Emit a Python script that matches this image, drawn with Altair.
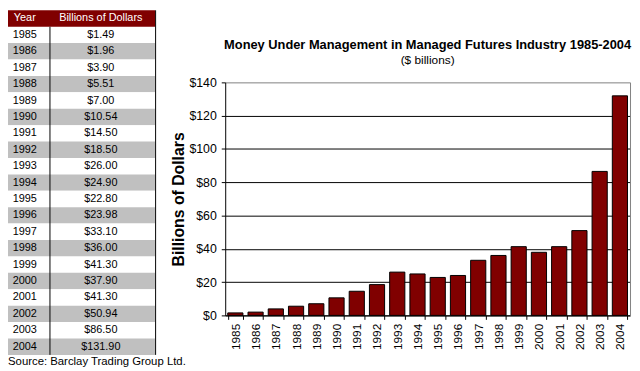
import altair as alt
import pandas as pd

# ---- data ----
years = ["1985", "1986", "1987", "1988", "1989", "1990", "1991", "1992", "1993", "1994",
         "1995", "1996", "1997", "1998", "1999", "2000", "2001", "2002", "2003", "2004"]
values = [1.49, 1.96, 3.90, 5.51, 7.00, 10.54, 14.50, 18.50, 26.00, 24.90,
          22.80, 23.98, 33.10, 36.00, 41.30, 37.90, 41.30, 50.94, 86.50, 131.90]
table_header = ["Year", "Billions of Dollars"]
y_ticks = [0, 20, 40, 60, 80, 100, 120, 140]
title_text = "Money Under Management in Managed Futures Industry 1985-2004"
subtitle_text = "($ billions)"
source_text = ["Source: Barclay Trading Group Ltd."]

FONT = "Liberation Sans"
RED = "#800000"

df = pd.DataFrame({"year": years, "value": values})
df["row"] = range(1, len(df) + 1)
df["shade"] = ["odd" if r % 2 else "even" for r in df["row"]]
hdr = pd.DataFrame({"row": [0], "year": [table_header[0]], "label": [table_header[1]]})
src = pd.DataFrame({"text": source_text})

# ---- table ----
row_scale = alt.Scale(domain=[0, 21], range=[0, 349], nice=False, zero=False)
ROW = lambda f: alt.Y(f, type="quantitative", scale=row_scale, axis=None)

rows_rect = alt.Chart(df).transform_calculate(row2="datum.row + 1").mark_rect().encode(
    x=alt.value(0), x2=alt.value(149),
    y=ROW("row"), y2="row2:Q",
    fill=alt.Fill("shade:N", scale=alt.Scale(domain=["odd", "even"], range=["#ffffff", "#c0c0c0"]), legend=None),
)
hdr_rect = alt.Chart(hdr).transform_calculate(row2="datum.row + 1").mark_rect(color=RED).encode(
    x=alt.value(0), x2=alt.value(149), y=ROW("row"), y2="row2:Q",
)
txt = dict(font=FONT, fontSize=11, baseline="middle", align="center")
year_txt = alt.Chart(df).transform_calculate(mid="datum.row + 0.5").mark_text(color="black", **txt).encode(
    x=alt.value(17), y=ROW("mid"), text="year:N")
val_txt = alt.Chart(df).transform_calculate(mid="datum.row + 0.5").mark_text(color="black", **txt).encode(
    x=alt.value(94), y=ROW("mid"), text=alt.Text("value:Q", format="$.2f"))
hdr_year = alt.Chart(hdr).transform_calculate(mid="datum.row + 0.5").mark_text(color="white", **txt).encode(
    x=alt.value(17), y=ROW("mid"), text="year:N")
hdr_val = alt.Chart(hdr).transform_calculate(mid="datum.row + 0.5").mark_text(color="white", **txt).encode(
    x=alt.value(94), y=ROW("mid"), text="label:N")
divider = alt.Chart(hdr).mark_rule(color="black", strokeWidth=1).encode(
    x=alt.value(42.5), y=alt.Y(datum=1, scale=row_scale, axis=None), y2=alt.Y2(datum=21))
right_edge = alt.Chart(hdr).mark_rule(color="black", strokeWidth=1).encode(
    x=alt.value(149.5), y=alt.Y(datum=0, scale=row_scale, axis=None), y2=alt.Y2(datum=21))
source = alt.Chart(src).mark_text(font=FONT, fontSize=11.5, align="left", baseline="middle", color="black").encode(
    x=alt.value(0), y=alt.value(356), text="text:N")

table = alt.layer(rows_rect, hdr_rect, year_txt, val_txt, hdr_year, hdr_val, divider, right_edge, source)

# ---- bar chart ----
x_scale = alt.Scale(range=[220, 630], paddingInner=0.25, paddingOuter=0.125)
y_scale = alt.Scale(domain=[0, 140], range=[309, 73], nice=False, zero=True)
x_axis = alt.Axis(orient="bottom", offset=-54, title=None, labelAngle=270, labelAlign="right",
                  labelBaseline="middle", labelFont=FONT, labelFontSize=12, labelColor="black",
                  labelPadding=4, tickSize=4, tickColor="black", tickBand="extent",
                  domainColor="black", grid=False)
y_axis = alt.Axis(orient="left", offset=-220, values=y_ticks, labelExpr="'$' + datum.value",
                  title="Billions of Dollars", titleFont=FONT, titleFontSize=16, titleFontWeight="bold",
                  titleColor="black", titlePadding=2, labelFont=FONT, labelFontSize=12.5,
                  labelColor="black", labelPadding=5, tickSize=4, tickColor="black",
                  domainColor="black", grid=True,
                  gridColor=alt.condition("datum.value == 140", alt.value("#808080"), alt.value("black")))

bars = alt.Chart(df).mark_bar(color=RED, stroke="black", strokeWidth=1).encode(
    x=alt.X("year:N", scale=x_scale, axis=x_axis, sort=None),
    y=alt.Y("value:Q", scale=y_scale, axis=y_axis),
)
frame = alt.Chart(df).mark_bar(opacity=0).encode(
    x=alt.X("year:N", scale=x_scale, axis=x_axis, sort=None),
    y=alt.Y("value:Q", scale=y_scale,
            axis=alt.Axis(orient="right", offset=-2, labels=False, ticks=False, grid=False,
                          domainColor="#808080", title=None)),
)
bar_layer = alt.layer(bars, frame).resolve_axis(y="independent")

chart = alt.layer(table, bar_layer).resolve_scale(x="independent", y="independent").properties(
    width=632, height=363,
    autosize=alt.AutoSizeParams(type="none"),
    padding=0,
    title=alt.TitleParams(text=title_text, subtitle=subtitle_text, font=FONT, fontSize=13,
                          fontWeight="bold", color="black", subtitleFont=FONT, subtitleFontSize=12,
                          subtitleColor="black", subtitlePadding=3, anchor="middle", frame="group",
                          dx=109, dy=61),
).configure_view(strokeWidth=0)

chart.save("out.html", embed_options={"renderer": "svg", "actions": False})
